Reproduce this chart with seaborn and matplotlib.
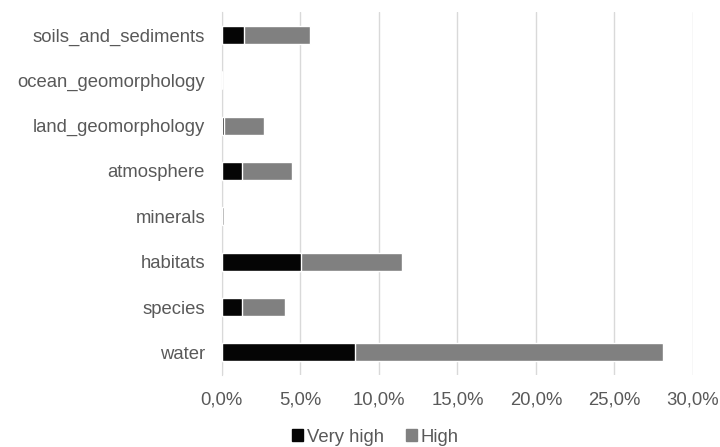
import matplotlib
matplotlib.use('Agg')
import matplotlib.pyplot as plt
from matplotlib.patches import Patch
from matplotlib.ticker import FuncFormatter
import seaborn as sns
import pandas as pd

# ===== data (share of items, %) =====
categories = ['soils_and_sediments', 'ocean_geomorphology', 'land_geomorphology',
              'atmosphere', 'minerals', 'habitats', 'species', 'water']
very_high = [1.40, 0.0, 0.13, 1.32, 0.0, 5.06, 1.28, 8.51]
high = [4.22, 0.0, 2.57, 3.13, 0.13, 6.41, 2.72, 19.61]

df = pd.DataFrame({'category': categories, 'very_high': very_high, 'high': high})
df['total'] = df['very_high'] + df['high']

sns.set_style('white')
plt.rcParams['font.family'] = ['Liberation Sans', 'DejaVu Sans']

fig = plt.figure(figsize=(7.2, 4.47), dpi=100)
ax = fig.add_axes([0.308, 0.161, 0.6545, 0.8115])

# stacked: draw total in grey, then the "very high" part on top in black
sns.barplot(data=df, x='total', y='category', order=categories, color='#808080',
            saturation=1, width=0.4, orient='h', ax=ax, zorder=3)
sns.barplot(data=df, x='very_high', y='category', order=categories, color='#050505',
            saturation=1, width=0.4, orient='h', ax=ax, zorder=4)

ax.set_xlim(0, 30)
ax.set_xticks([0, 5, 10, 15, 20, 25, 30])
ax.xaxis.set_major_formatter(FuncFormatter(lambda v, p: f'{v:.1f}%'.replace('.', ',')))
ax.grid(axis='x', color='#d9d9d9', linewidth=1, zorder=0)
ax.set_axisbelow(True)
for s in ['top', 'right', 'bottom']:
    ax.spines[s].set_visible(False)
ax.spines['left'].set_color('#d9d9d9')
ax.set_xlabel('')
ax.set_ylabel('')
ax.tick_params(axis='both', length=0, labelsize=13.3, colors='#595959')
ax.tick_params(axis='y', pad=12)
ax.tick_params(axis='x', pad=12)

handles = [Patch(color='#050505', label='Very high'), Patch(color='#808080', label='High')]
fig.legend(handles=handles, loc='center', bbox_to_anchor=(0.521, 0.022), ncol=2,
           frameon=False, fontsize=13.3, handlelength=0.6, handleheight=0.6,
           handletextpad=0.2, columnspacing=1.2, labelcolor='#595959',
           borderpad=0, borderaxespad=0)

fig.savefig('out.png', dpi=100)
